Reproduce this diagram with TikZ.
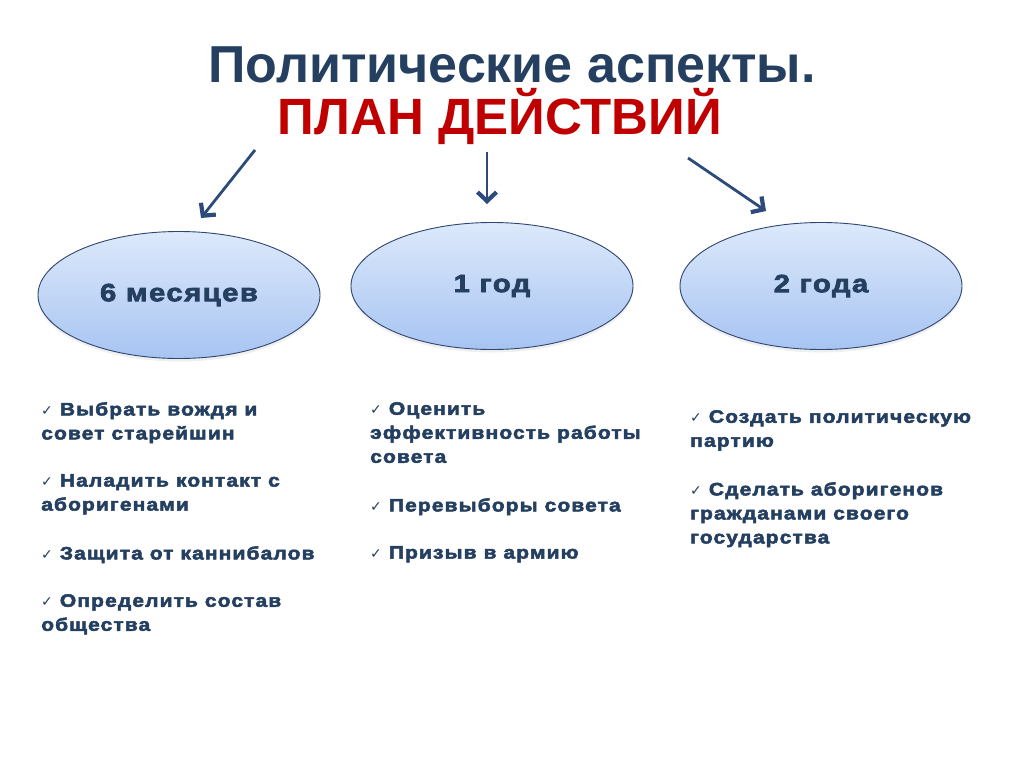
\documentclass[tikz,border=0pt]{standalone}
\usepackage{fontspec}
\setmainfont{Liberation Sans}
\newfontfamily\bodyfont[UprightFont=* Bold, LetterSpace=6, FakeStretch=1.17, FakeBold=2.8]{Liberation Sans}
\newfontfamily\symfont{DejaVu Sans}
\usetikzlibrary{arrows.meta,shadows,shapes.geometric}
\definecolor{navy}{HTML}{243F60}
\definecolor{redtitle}{HTML}{C00000}
\definecolor{arrowblue}{HTML}{2C4A7A}
\definecolor{elltop}{HTML}{DDE9FB}
\definecolor{ellbot}{HTML}{A7C4F2}
\definecolor{ellborder}{HTML}{2F4670}
\newcommand{\chk}{{\symfont\fontsize{14}{14}\selectfont ✓}\ }
\tikzset{
  period/.style={ellipse, minimum width=282pt, minimum height=127pt, inner sep=0pt,
    draw=ellborder, line width=0.9pt, top color=elltop, bottom color=ellbot,
    drop shadow={shadow xshift=0pt, shadow yshift=-3pt, opacity=0.12},
    font=\bodyfont\fontsize{25}{25}\selectfont, text=navy},
  item/.style={anchor=north west, inner sep=0pt, align=left, text=navy,
    font=\bodyfont\fontsize{18}{24}\selectfont},
  arr/.style={draw=arrowblue, line width=2.8pt, -{Straight Barb[length=9pt,width=19pt,line width=4.2pt]}}
}
\begin{document}
\begin{tikzpicture}[x=1pt,y=-1pt]
\useasboundingbox (0,0) rectangle (1024,767);
\fill[white] (0,0) rectangle (1024,767);
\node[text=navy, font=\bfseries\fontsize{52}{52}\selectfont] (t1) at (512,65) {Политические аспекты.};
\node[text=redtitle, font=\bfseries\fontsize{51}{51}\selectfont] (t2) at (500,116) {ПЛАН ДЕЙСТВИЙ};

\node[period] (e1) at (179,295) {\raisebox{-6pt}{6 месяцев}};
\node[period] (e2) at (492,286) {\raisebox{-6pt}{1 год}};
\node[period] (e3) at (821,286) {\raisebox{-6pt}{2 года}};

\coordinate (a1s) at (255,150); \coordinate (a1e) at (201,218);
\coordinate (a2s) at (487,152); \coordinate (a2e) at (487,204);
\coordinate (a3s) at (688,158); \coordinate (a3e) at (766,211);
\draw[arr] (a1s) -- (a1e);
\draw[arr] (a2s) -- (a2e);
\draw[arr] (a3s) -- (a3e);

\node[item] (l1) at (41,402) {\chk Выбрать вождя и\\совет старейшин};
\node[item] (l2) at (41,474) {\chk Наладить контакт с\\аборигенами};
\node[item] (l3) at (41,546) {\chk Защита от каннибалов};
\node[item] (l4) at (41,594) {\chk Определить состав\\общества};

\node[item] (m1) at (370,402) {\chk Оценить\\эффективность работы\\совета};
\node[item] (m2) at (370,498) {\chk Перевыборы совета};
\node[item] (m3) at (370,546) {\chk Призыв в армию};

\node[item] (r1) at (690,410) {\chk Создать политическую\\партию};
\node[item] (r2) at (690,482) {\chk Сделать аборигенов\\гражданами своего\\государства};
\end{tikzpicture}
\end{document}
